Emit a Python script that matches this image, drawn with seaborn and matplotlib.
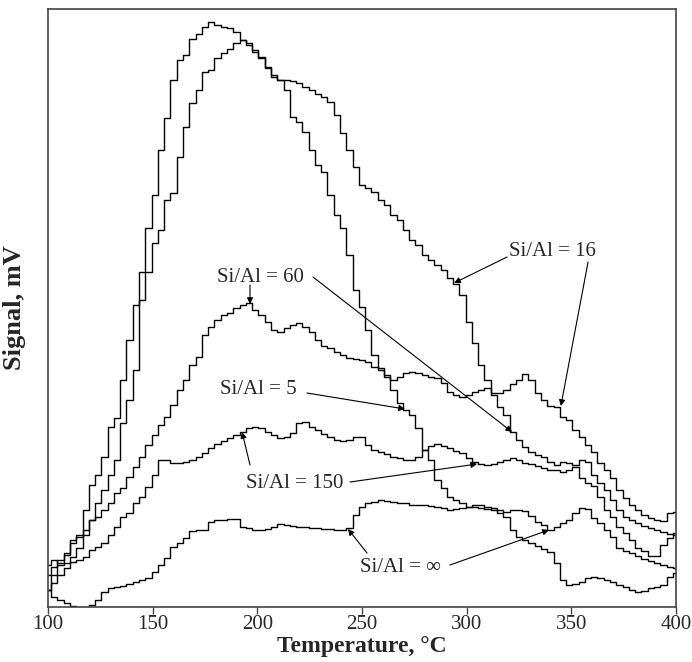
import numpy as np
import pandas as pd
import matplotlib
matplotlib.use("Agg")
import matplotlib.pyplot as plt
import seaborn as sns

temperature = list(range(100, 401, 3))

# Signal readings (arbitrary units, axis has no ticks)
si_al_16 = [17, 32, 42, 52, 67, 72, 97, 122, 132, 150, 180, 189, 227, 267, 302, 335, 379, 412,
            457, 489, 527, 547, 552, 568, 573, 580, 585, 582, 580, 579, 575, 567, 564, 557, 550,
            540, 532, 527, 527, 526, 524, 520, 517, 513, 510, 505, 492, 474, 457, 440, 422, 419,
            415, 407, 402, 392, 387, 377, 367, 362, 352, 347, 342, 337, 329, 323, 312, 285, 264,
            242, 227, 214, 214, 217, 223, 227, 233, 227, 214, 207, 201, 200, 190, 187, 177, 170,
            162, 155, 144, 137, 129, 117, 109, 102, 97, 92, 89, 87, 86, 94, 95]
si_al_5 = [17, 24, 32, 39, 50, 59, 72, 87, 104, 117, 132, 147, 184, 207, 237, 307, 335, 364,
           377, 407, 414, 450, 480, 504, 517, 535, 537, 549, 554, 558, 564, 567, 562, 555, 549,
           539, 530, 527, 517, 490, 485, 475, 457, 442, 435, 412, 392, 379, 352, 317, 300, 277,
           252, 239, 232, 217, 204, 197, 192, 179, 157, 147, 127, 119, 110, 107, 104, 100, 100,
           99, 98, 97, 94, 90, 77, 70, 67, 64, 61, 58, 55, 44, 27, 22, 23, 25, 29, 30, 29, 27,
           25, 22, 20, 17, 15, 16, 19, 20, 22, 30, 34]
si_al_60 = [32, 40, 47, 54, 64, 70, 77, 87, 90, 97, 104, 114, 119, 130, 140, 150, 162, 172,
            182, 190, 202, 217, 227, 242, 250, 272, 280, 287, 292, 294, 299, 302, 304, 297, 292,
            285, 277, 275, 279, 282, 284, 280, 275, 267, 261, 259, 255, 252, 249, 248, 247, 245,
            240, 237, 230, 227, 230, 234, 235, 234, 232, 230, 229, 224, 215, 212, 210, 212, 215,
            217, 219, 212, 200, 192, 175, 167, 160, 155, 152, 150, 145, 142, 145, 144, 142, 147,
            145, 132, 124, 117, 107, 97, 90, 87, 84, 81, 79, 77, 75, 73, 72]
si_al_150 = [42, 47, 44, 44, 45, 47, 50, 57, 60, 64, 72, 80, 90, 94, 104, 110, 120, 132, 147,
             147, 144, 144, 145, 147, 150, 154, 159, 163, 166, 169, 172, 175, 179, 180, 179, 175,
             172, 169, 170, 174, 184, 185, 180, 177, 173, 170, 167, 166, 167, 170, 170, 162, 157,
             155, 153, 150, 149, 147, 147, 150, 157, 161, 163, 161, 159, 156, 154, 149, 145, 143,
             142, 143, 145, 147, 149, 147, 144, 143, 141, 139, 137, 137, 135, 137, 140, 129, 124,
             121, 110, 97, 90, 80, 74, 67, 59, 56, 51, 51, 62, 69, 74]
si_al_inf = [17, 10, 7, 4, 1, 0, 0, 2, 7, 15, 19, 20, 21, 23, 25, 27, 29, 35, 42, 49, 60, 64,
             69, 76, 77, 77, 85, 87, 87, 88, 88, 80, 79, 77, 77, 78, 80, 83, 82, 81, 80, 80, 79,
             79, 78, 78, 77, 77, 79, 92, 100, 104, 105, 107, 106, 105, 104, 104, 102, 102, 102,
             101, 100, 99, 97, 98, 99, 100, 102, 102, 100, 99, 97, 95, 97, 97, 96, 91, 85, 82, 77,
             80, 84, 87, 94, 99, 98, 89, 84, 77, 70, 59, 56, 54, 51, 48, 46, 44, 42, 40, 39]

series = {"Si/Al = 16": si_al_16, "Si/Al = 5": si_al_5, "Si/Al = 60": si_al_60,
          "Si/Al = 150": si_al_150, "Si/Al = \u221e": si_al_inf}

df = pd.concat([pd.DataFrame({"T": temperature, "signal": v, "sample": k})
                for k, v in series.items()], ignore_index=True)

sns.set_style("white")
plt.rcParams["font.family"] = ["Liberation Serif", "DejaVu Serif"]

fig = plt.figure(figsize=(6.92, 6.62), dpi=100)
ax = fig.add_axes([48 / 692, 1 - 607 / 662, 628 / 692, 598 / 662])

sns.lineplot(data=df, x="T", y="signal", hue="sample", palette=["black"] * 5,
             estimator=None, legend=False, drawstyle="steps-mid", linewidth=1.0, ax=ax)

ax.set_xlim(100, 400)
ax.set_ylim(0, 598)
ax.set_xticks([100, 150, 200, 250, 300, 350, 400])
ax.set_yticks([])
ax.tick_params(axis="x", direction="out", length=5, width=1, labelsize=15, pad=1,
               bottom=True, color="#444444")
for s in ax.spines.values():
    s.set_visible(True)
    s.set_color("#444444")
    s.set_linewidth(1.2)

ax.set_xlabel("Temperature, \u00b0C", fontsize=17, fontweight="bold")
ax.xaxis.set_label_coords(0.5, -0.048)
ax.set_ylabel("Signal, mV", fontsize=19, fontweight="bold")
ax.yaxis.set_label_coords(-0.035, 0.5)

# Annotation labels and arrows
arrow_kw = dict(arrowstyle="-|>", color="black", lw=0.8, mutation_scale=9, shrinkA=0, shrinkB=0)
labels = [("Si/Al = 16", (340.8, 355)),
          ("Si/Al = 60", (201.3, 330)),
          ("Si/Al = 5", (200.3, 217)),
          ("Si/Al = 150", (218.0, 124)),
          ("Si/Al = \u221e", (268.2, 40))]
for txt, pos in labels:
    ax.text(pos[0], pos[1], txt, ha="center", va="center", fontsize=15,
            family=["Liberation Serif", "DejaVu Serif"])

arrows = [((319.3, 350), (294.0, 324)),
          ((358.0, 345), (345.0, 201)),
          ((196.5, 322), (196.5, 303)),
          ((226.6, 330), (321.7, 175)),
          ((223.7, 214), (270.5, 198)),
          ((196.5, 142), (192.7, 175)),
          ((244.3, 125), (305.0, 143)),
          ((252.4, 54), (243.3, 78)),
          ((292.0, 42), (339.3, 77))]
for start, tip in arrows:
    ax.annotate("", xy=tip, xytext=start, arrowprops=arrow_kw)

fig.savefig("out.png", dpi=100)
